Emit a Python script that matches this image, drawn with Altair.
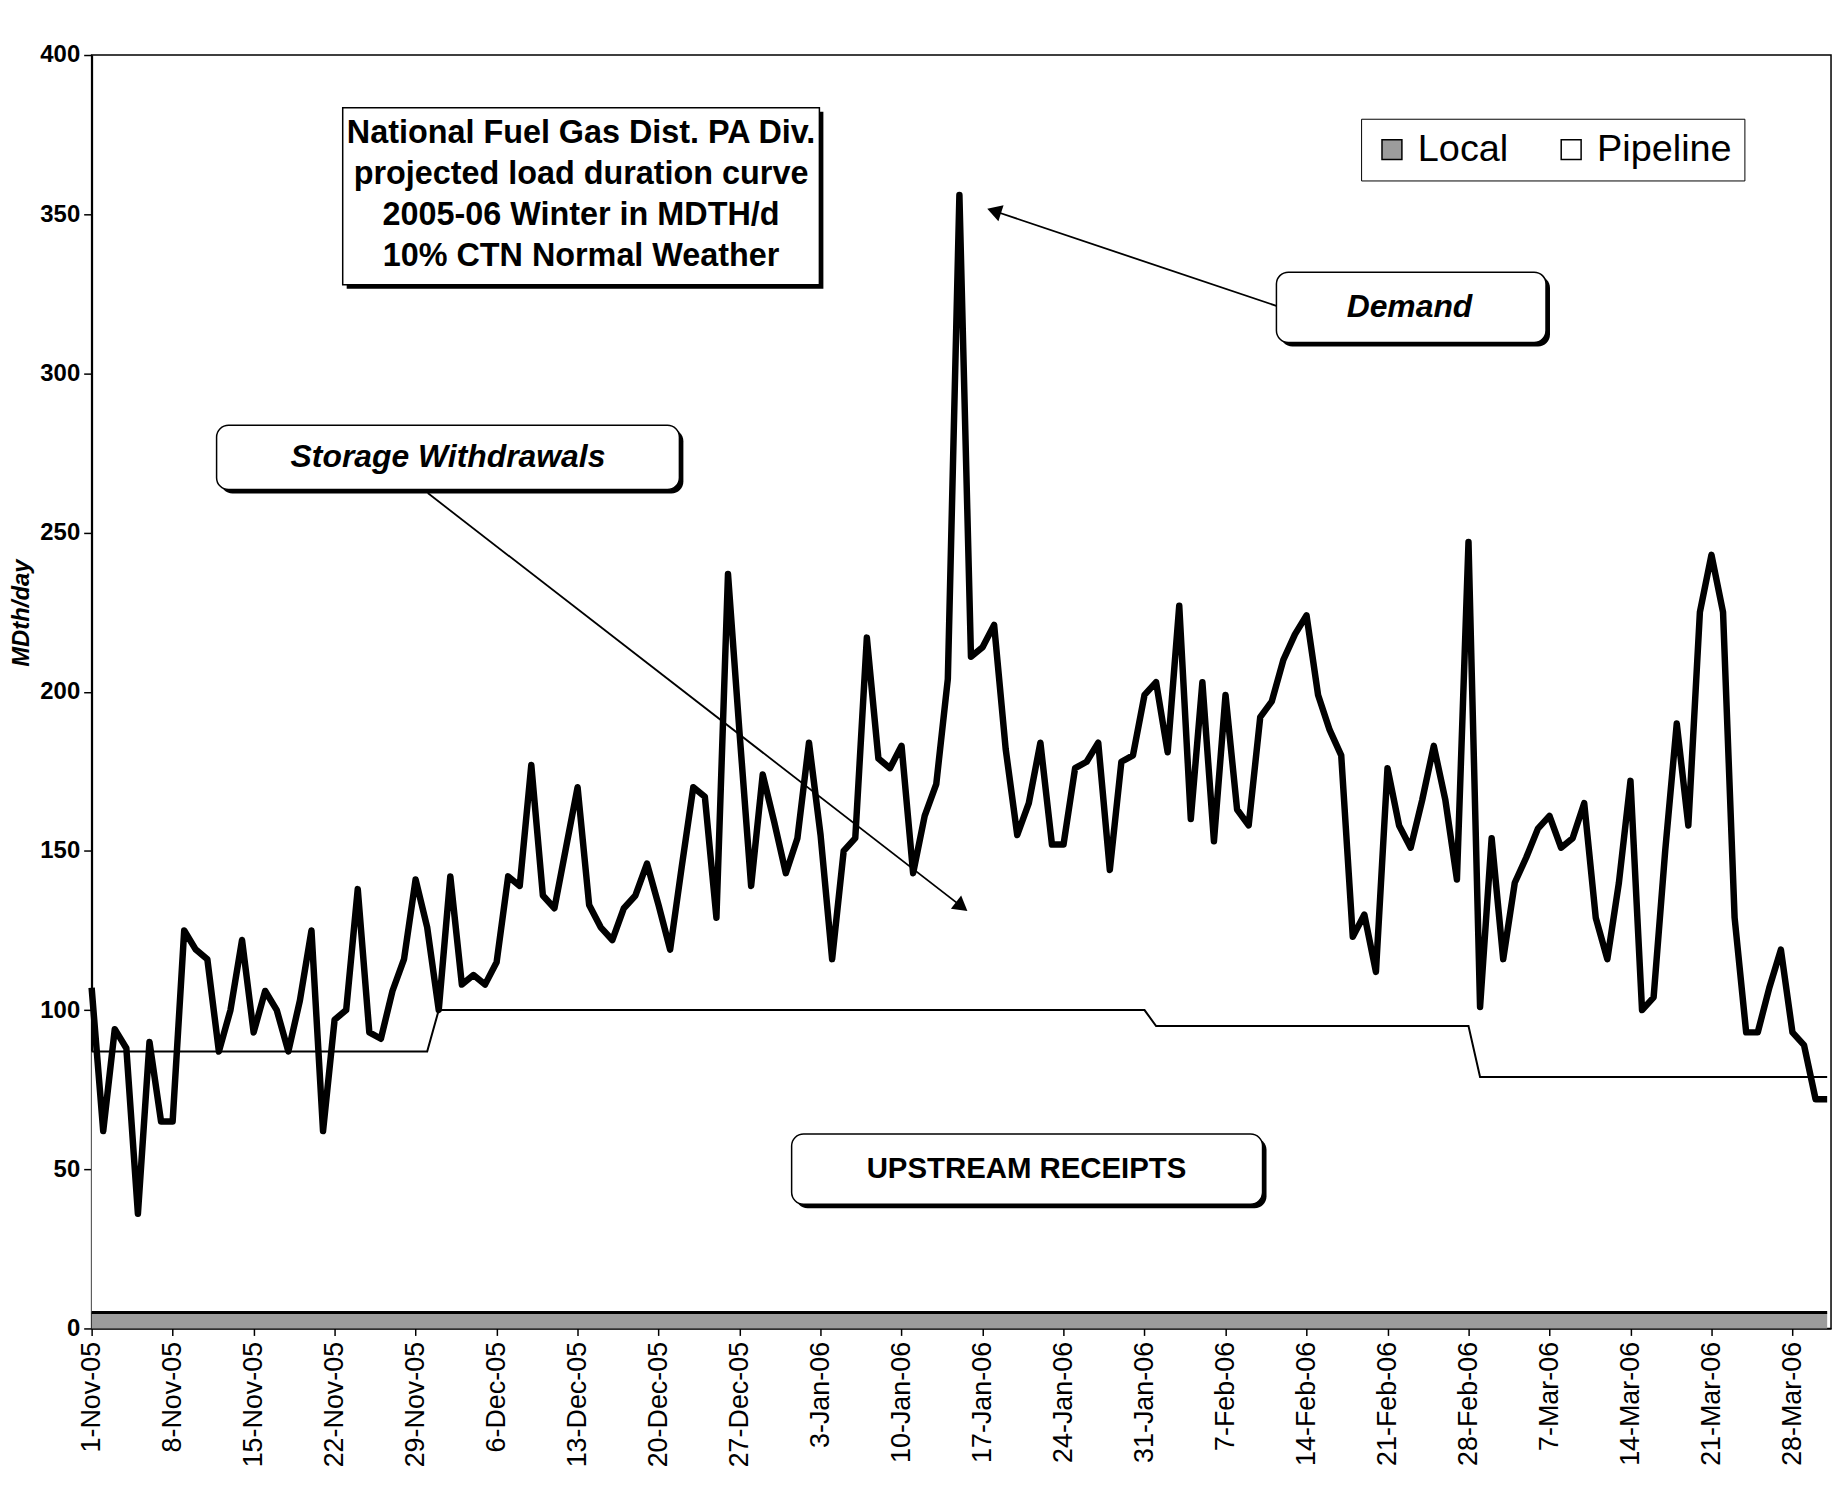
import altair as alt
import pandas as pd

# ---------------- data ----------------
start_date = "2005-11-01"

# Daily demand, 1-Nov-05 .. 31-Mar-06 (MDth/day)
demand = [
    107, 62, 94, 88, 36, 90, 65, 65, 125, 119,
    116, 87, 100, 122, 93, 106, 100, 87, 103, 125,
    62, 97, 100, 138, 93, 91, 106, 116, 141, 126,
    100, 142, 108, 111, 108, 115, 142, 139, 177, 136,
    132, 151, 170, 133, 126, 122, 132, 136, 146, 133,
    119, 145, 170, 167, 129, 237, 187, 139, 174, 159,
    143, 154, 184, 155, 116, 150, 154, 217, 179, 176,
    183, 143, 161, 171, 204, 356, 211, 214, 221, 182,
    155, 165, 184, 152, 152, 176, 178, 184, 144, 178,
    180, 199, 203, 181, 227, 160, 203, 153, 199, 163,
    158, 192, 197, 210, 218, 224, 199, 188, 180, 123,
    130, 112, 176, 158, 151, 166, 183, 166, 141, 247,
    101, 154, 116, 140, 148, 157, 161, 151, 154, 165,
    129, 116, 140, 172, 100, 104, 150, 190, 158, 225,
    243, 225, 129, 93, 93, 107, 119, 93, 89, 72,
    72,
]

# Upstream receipts (Local + Pipeline, top of the pipeline area)
pipeline = [87] * 30 + [100] * 62 + [95] * 28 + [79] * 31
# Local supply band
local = [5] * 151

series_names = ["Local", "Pipeline"]
y_ticks = [0, 50, 100, 150, 200, 250, 300, 350, 400]
tick_days = [0, 7, 14, 21, 28, 35, 42, 49, 56, 63, 70, 77, 84, 91, 98, 105,
             112, 119, 126, 133, 140, 147]

title_lines = ["National Fuel Gas Dist. PA Div.",
               "projected load duration curve",
               "2005-06 Winter in MDTH/d",
               "10% CTN Normal Weather"]
title_line_vals = [375.5, 362.5, 349.6, 336.7]

# annotation boxes in chart units (day offset, MDth/day)
box_names = ["Storage Withdrawals", "Demand", "UPSTREAM RECEIPTS"]
box_x1 = [10.8, 102.4, 60.5]
box_x2 = [50.8, 125.7, 101.2]
box_y1 = [283.7, 331.8, 61.1]
box_y2 = [263.5, 309.7, 39.0]
box_tx = [30.8, 113.9, 80.8]
box_ty = [273.6, 320.8, 50.0]
box_italic = ["italic", "italic", "normal"]

# arrows (start -> tip)
arrow_x1 = [29.05, 102.4]
arrow_y1 = [262.4, 321.2]
arrow_x2 = [75.2, 78.0]
arrow_y2 = [132.5, 351.0]
arrow_angle = [128, 288]

# title box
tbox_x = [21.7, 62.9]
tbox_y = [383.4, 327.8]

# ---------------- build tables ----------------
base = pd.Timestamp(start_date)
dates = pd.date_range(start_date, periods=len(demand), freq="D")


def day(d):
    return base + pd.to_timedelta(d, unit="D")


df = pd.DataFrame({"date": dates, "demand": demand,
                   "pipeline": pipeline, "local": local})

area_rows = []
for d, p, l in zip(dates, pipeline, local):
    area_rows.append({"date": d, "series": "Local", "value": l, "ord": 1})
    area_rows.append({"date": d, "series": "Pipeline", "value": p - l, "ord": 2})
area_df = pd.DataFrame(area_rows)

boxes = pd.DataFrame({
    "name": box_names,
    "x1": [day(v) for v in box_x1], "x2": [day(v) for v in box_x2],
    "y1": box_y1, "y2": box_y2,
    "tx": [day(v) for v in box_tx], "ty": box_ty, "style": box_italic,
})
tbox = pd.DataFrame({"x1": [day(tbox_x[0])], "x2": [day(tbox_x[1])],
                     "y1": [tbox_y[0]], "y2": [tbox_y[1]]})
tlines = pd.DataFrame({"text": title_lines,
                       "x": [day((tbox_x[0] + tbox_x[1]) / 2)] * 4,
                       "y": title_line_vals})
arrows = pd.DataFrame({"x1": [day(v) for v in arrow_x1],
                       "x2": [day(v) for v in arrow_x2],
                       "y1": arrow_y1, "y2": arrow_y2,
                       "angle": arrow_angle})

FONT = "Liberation Sans"

x_scale = alt.Scale(domain=[alt.DateTime(year=2005, month=11, date=1),
                            alt.DateTime(year=2006, month=3, date=31, hours=8)])
y_scale = alt.Scale(domain=[0, 400], nice=False)

x_axis = alt.Axis(
    values=[alt.DateTime(year=int(day(t).year), month=int(day(t).month),
                         date=int(day(t).day)) for t in tick_days],
    format="%-d-%b-%y", labelAngle=270, labelFontSize=27, labelFont=FONT,
    labelColor="black", labelPadding=6, labelOverlap=False, tickSize=7,
    tickColor="black", tickWidth=1.5, domainColor="black", domainWidth=1.5,
    grid=False, title=None,
)
y_axis = alt.Axis(
    values=y_ticks, labelFontSize=24, labelFontWeight="bold", labelFont=FONT,
    labelColor="black", labelPadding=4, tickSize=8, tickColor="black",
    tickWidth=1.5, domainColor="black", domainWidth=2, grid=False,
    title="MDth/day", titleFont=FONT, titleFontSize=24, titleFontWeight="bold",
    titleFontStyle="italic", titleColor="black", titleAngle=270,
    titleX=-70, titleY=560, titleAlign="center", titleBaseline="middle",
)


def X(field):
    return alt.X(field, scale=x_scale, axis=x_axis, title=None)


def Y(field, **kw):
    return alt.Y(field, scale=y_scale, axis=y_axis, title="MDth/day", **kw)


areas = alt.Chart(area_df).mark_area(opacity=1).encode(
    x=X("date:T"),
    y=Y("value:Q", stack="zero"),
    color=alt.Color(
        "series:N",
        scale=alt.Scale(domain=series_names, range=["#9c9c9c", "#ffffff"]),
        legend=alt.Legend(
            title=None, orient="none", legendX=1275, legendY=64,
            direction="horizontal", strokeColor="black", padding=12,
            labelFont=FONT, labelFontSize=38, labelColor="black",
            labelOffset=7, symbolType="square", symbolSize=400,
            symbolStrokeColor="black", symbolStrokeWidth=1.5,
            symbolOpacity=1, columnPadding=44, fillColor="white",
        ),
    ),
    order=alt.Order("ord:Q"),
)

local_line = alt.Chart(df).mark_line(color="black", strokeWidth=3).encode(
    x=X("date:T"), y=Y("local:Q"))
pipe_line = alt.Chart(df).mark_line(color="black", strokeWidth=2).encode(
    x=X("date:T"), y=Y("pipeline:Q"))
demand_line = alt.Chart(df).mark_line(color="black", strokeWidth=6.5,
                                      strokeJoin="round").encode(
    x=X("date:T"), y=Y("demand:Q"))

# arrows
arrow_rules = alt.Chart(arrows).mark_rule(color="black", strokeWidth=1.8).encode(
    x=X("x1:T"), x2="x2:T", y=Y("y1:Q"), y2="y2:Q")
arrow_heads = alt.Chart(arrows).mark_point(
    shape="triangle-up", filled=True, color="black", size=280, opacity=1
).encode(
    x=X("x2:T"), y=Y("y2:Q"),
    angle=alt.Angle("angle:Q", scale=None),
)

# title box
tbox_shadow = alt.Chart(tbox).mark_rect(
    fill="black", xOffset=4, x2Offset=4, yOffset=4, y2Offset=4).encode(
    x=X("x1:T"), x2="x2:T", y=Y("y1:Q"), y2="y2:Q")
tbox_rect = alt.Chart(tbox).mark_rect(
    fill="white", stroke="black", strokeWidth=1.5).encode(
    x=X("x1:T"), x2="x2:T", y=Y("y1:Q"), y2="y2:Q")
tbox_text = alt.Chart(tlines).mark_text(
    font=FONT, fontSize=32.5, fontWeight="bold", color="black",
    align="center", baseline="middle").encode(
    x=X("x:T"), y=Y("y:Q"), text="text:N")

# callout boxes
box_shadow = alt.Chart(boxes).mark_rect(
    fill="black", cornerRadius=12, xOffset=4, x2Offset=4, yOffset=4,
    y2Offset=4).encode(
    x=X("x1:T"), x2="x2:T", y=Y("y1:Q"), y2="y2:Q")
box_rect = alt.Chart(boxes).mark_rect(
    fill="white", stroke="black", strokeWidth=1.5, cornerRadius=12).encode(
    x=X("x1:T"), x2="x2:T", y=Y("y1:Q"), y2="y2:Q")
box_text_it = alt.Chart(boxes).transform_filter(
    alt.datum.style == "italic").mark_text(
    font=FONT, fontSize=32, fontWeight="bold", fontStyle="italic",
    color="black", align="center", baseline="middle").encode(
    x=X("tx:T"), y=Y("ty:Q"), text="name:N")
box_text_up = alt.Chart(boxes).transform_filter(
    alt.datum.style == "normal").mark_text(
    font=FONT, fontSize=29.5, fontWeight="bold",
    color="black", align="center", baseline="middle").encode(
    x=X("tx:T"), y=Y("ty:Q"), text="name:N")

chart = alt.layer(
    areas, local_line, pipe_line, demand_line,
    arrow_rules, arrow_heads,
    tbox_shadow, tbox_rect, tbox_text,
    box_shadow, box_rect, box_text_it, box_text_up,
).properties(
    width=1747, height=1279,
    padding={"left": 84, "top": 44, "right": 6, "bottom": 150},
    autosize=alt.AutoSizeParams(type="none"),
    background="white",
).configure_view(
    stroke="black", strokeWidth=1.5,
)

chart.save("out.html", embed_options={"renderer": "svg", "actions": False})
